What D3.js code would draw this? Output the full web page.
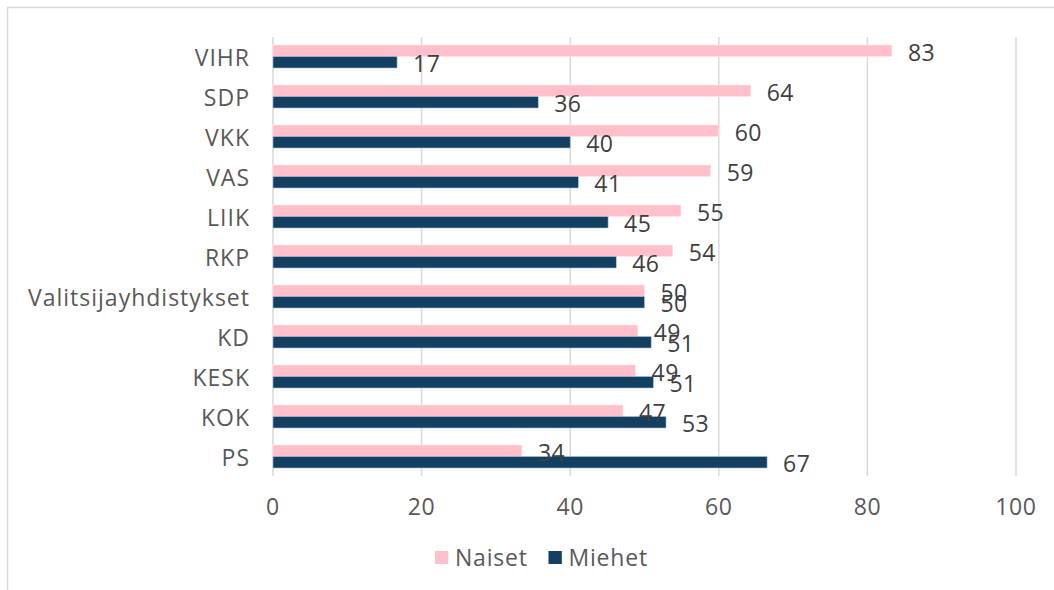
<!DOCTYPE html>
<html>
<head>
<meta charset="utf-8">
<script src="https://cdn.jsdelivr.net/npm/d3@7"></script>
<style>
  body { margin: 0; background: #fff; }
  svg { display: block; }
</style>
</head>
<body>
<svg id="chart" width="1054" height="590"></svg>
<script>
// party categories, top to bottom
const parties = ["VIHR", "SDP", "VKK", "VAS", "LIIK", "RKP", "Valitsijayhdistykset", "KD", "KESK", "KOK", "PS"];
// share of candidates (%)
const naiset = [83.3, 64.3, 60.0, 58.9, 54.9, 53.8, 50.0, 49.1, 48.8, 47.1, 33.5];
const miehet = [16.7, 35.7, 40.0, 41.1, 45.1, 46.2, 50.0, 50.9, 51.2, 52.9, 66.5];
const seriesNames = ["Naiset", "Miehet"];
const xTicks = [0, 20, 40, 60, 80, 100];

const colors = { Naiset: "#FFC0CB", Miehet: "#133F60" };
const font = "'Open Sans', 'Liberation Sans', sans-serif";

const data = parties.map((p, i) => ({ party: p, Naiset: naiset[i], Miehet: miehet[i] }));

const svg = d3.select("#chart");

// outer chart frame
svg.append("rect")
  .attr("x", 7.5).attr("y", 7.5)
  .attr("width", 1060).attr("height", 600)
  .style("fill", "none")
  .style("stroke", "#d9d9d9")
  .style("stroke-width", 1.5);

const x = d3.scaleLinear()
  .domain([0, 100])
  .range([273, 1016]);

const y = d3.scaleBand()
  .domain(parties)
  .range([36.5, 476.5])
  .paddingInner(0.425)
  .paddingOuter(0.2125);

const y1 = d3.scaleBand()
  .domain(seriesNames)
  .range([0, y.bandwidth()]);

// grid lines
svg.append("g")
  .selectAll("line")
  .data(xTicks)
  .enter().append("line")
  .attr("x1", d => x(d)).attr("x2", d => x(d))
  .attr("y1", 37).attr("y2", 476)
  .style("stroke", "#d9d9d9")
  .style("stroke-width", 1.5);

// x tick labels
svg.append("g")
  .selectAll("text")
  .data(xTicks)
  .enter().append("text")
  .attr("x", d => x(d))
  .attr("y", 506)
  .attr("text-anchor", "middle")
  .attr("dominant-baseline", "central")
  .style("font-family", font)
  .style("font-size", "23px")
  .style("letter-spacing", "0.6px")
  .style("fill", "#595959")
  .text(d => d);

// category labels
svg.append("g")
  .selectAll("text")
  .data(parties)
  .enter().append("text")
  .attr("x", 250)
  .attr("y", d => y(d) + y.bandwidth() / 2)
  .attr("text-anchor", "end")
  .attr("dominant-baseline", "central")
  .style("font-family", font)
  .style("font-size", "23px")
  .style("letter-spacing", "1px")
  .style("fill", "#595959")
  .text(d => d);

// bars
const groups = svg.append("g")
  .selectAll("g")
  .data(data)
  .enter().append("g")
  .attr("transform", d => `translate(0,${y(d.party)})`);

groups.selectAll("rect")
  .data(d => seriesNames.map(k => ({ key: k, value: d[k] })))
  .enter().append("rect")
  .attr("x", x(0))
  .attr("y", d => y1(d.key))
  .attr("width", d => x(d.value) - x(0))
  .attr("height", y1.bandwidth())
  .style("fill", d => colors[d.key])
  .style("stroke", d => d.key === "Miehet" ? "#a9c4dc" : "#ffe6ea")
  .style("stroke-width", 0.6);

// data labels
groups.selectAll("text")
  .data(d => seriesNames.map(k => ({ key: k, value: d[k] })))
  .enter().append("text")
  .attr("x", d => x(d.value) + 16)
  .attr("y", d => y1(d.key) + y1.bandwidth() / 2 + 1)
  .attr("dominant-baseline", "central")
  .style("font-family", font)
  .style("font-size", "23px")
  .style("letter-spacing", "0.4px")
  .style("fill", "#404040")
  .text(d => d3.format(".0f")(d.value));

// legend
const legend = svg.append("g");
const legendX = [435, 548.5];
seriesNames.forEach((name, i) => {
  legend.append("rect")
    .attr("x", legendX[i]).attr("y", 551)
    .attr("width", 13.3).attr("height", 13)
    .style("fill", colors[name]);
  legend.append("text")
    .attr("x", legendX[i] + 20)
    .attr("y", 557)
    .attr("dominant-baseline", "central")
    .style("font-family", font)
    .style("font-size", "23px")
    .style("letter-spacing", "0.8px")
    .style("fill", "#595959")
    .text(name);
});
</script>
</body>
</html>
